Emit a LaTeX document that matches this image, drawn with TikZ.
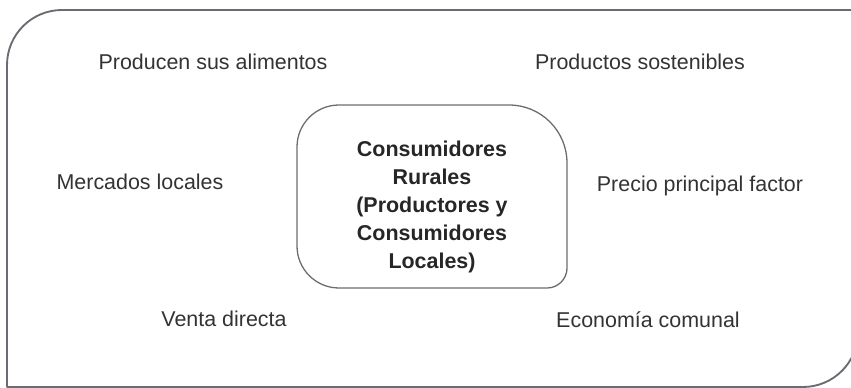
\documentclass[tikz,border=0pt]{standalone}
\usepackage{fontspec}
\setmainfont{Liberation Sans}
\begin{document}
\begin{tikzpicture}[x=0.3mm,y=0.3mm,line join=round,line cap=round]
	\definecolor{borde}{rgb}{0.42,0.42,0.45}
	\definecolor{texto}{rgb}{0.2,0.2,0.2}
	\tikzset{lbl/.style={anchor=base,inner sep=0pt,text=texto,font=\fontsize{18.3}{24}\selectfont},
		centro/.style={inner sep=0pt,align=center,text=black!85,font=\fontsize{18.3}{23.8}\selectfont\bfseries}}
	\useasboundingbox (0,0) rectangle (851,388);
	\clip (0,0) rectangle (851,388);
	
	% marco exterior
	\draw[borde,line width=1.6pt] (7,1)--(7,323)
	arc[start angle=180,end angle=90,radius=55]--(858,378)--(858,56)
	arc[start angle=0,end angle=-90,radius=55]--cycle;
	
	% caja central
	\draw[borde,line width=1.1pt] (297,142)--(297,241)
	arc[start angle=180,end angle=90,radius=42]--(509,283)
	arc[start angle=90,end angle=0,radius=58]--(567,120)
	arc[start angle=0,end angle=-90,radius=20]--(339,100)
	arc[start angle=270,end angle=180,radius=42]--cycle;
	
	\node[centro] (rurales) at (432,181) {Consumidores\\Rurales\\(Productores y\\Consumidores\\Locales)};
	
	\node[lbl] (alimentos) at (213,318) {Producen sus alimentos};
	\node[lbl] (sostenibles) at (640,318) {Productos sostenibles};
	\node[lbl] (mercados) at (140,198) {Mercados locales};
	\node[lbl] (precio) at (700,196) {Precio principal factor};
	\node[lbl] (venta) at (224,61) {Venta directa};
	\node[lbl] (economia) at (648,60) {Economía comunal};
\end{tikzpicture}
\end{document}
